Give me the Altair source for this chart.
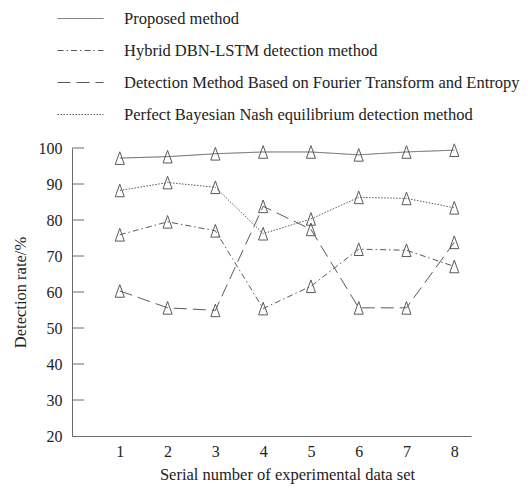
import altair as alt
import pandas as pd

# ---- data ----
data_set = [1, 2, 3, 4, 5, 6, 7, 8]
series_names = [
    "Proposed method",
    "Hybrid DBN-LSTM detection method",
    "Detection Method Based on Fourier Transform and Entropy",
    "Perfect Bayesian Nash equilibrium detection method",
]
proposed = [97.2, 97.6, 98.4, 98.9, 98.9, 98.1, 98.9, 99.4]
hybrid = [75.9, 79.5, 77.0, 55.4, 61.6, 71.9, 71.6, 67.1]
fourier = [60.3, 55.6, 54.9, 83.8, 77.4, 55.6, 55.6, 73.8]
bayes = [88.2, 90.4, 89.1, 76.2, 80.3, 86.3, 86.0, 83.4]
y_ticks = [20, 30, 40, 50, 60, 70, 80, 90, 100]
x_ticks = [1, 2, 3, 4, 5, 6, 7, 8]

rows = []
for name, vals in zip(series_names, [proposed, hybrid, fourier, bayes]):
    for x, v in zip(data_set, vals):
        rows.append({"set": x, "rate": v, "method": name})
df = pd.DataFrame(rows)
ticks_df = pd.DataFrame({"rate": [t for t in y_ticks if t > 20]})

FONT = "Liberation Serif, Times New Roman, Times, serif"
LINE = "#5a5a5a"
AXIS = "#6a6a6a"

x_scale = alt.Scale(domain=[0, 8.35], nice=False, zero=False)
y_scale = alt.Scale(domain=[20, 100], nice=False, zero=False)

x_axis = alt.Axis(
    values=x_ticks,
    title="Serial number of experimental data set",
    ticks=False,
    grid=False,
    labelPadding=7,
    titlePadding=7,
    titleX=215,
    labelOverlap=False,
)
y_axis = alt.Axis(
    values=y_ticks,
    title="Detection rate/%",
    ticks=False,
    grid=False,
    labelPadding=10,
    titlePadding=10,
    labelOverlap=False,
)

dash_scale = alt.Scale(
    domain=series_names,
    range=[[1, 0], [6, 3, 1.5, 3], [13, 6], [1.5, 1.5]],
)

NBSP = "\u00a0"
FIG = "\u2007"
label_expr = (
    "indexof(datum.label, 'Proposed') == 0 ? '" + NBSP + "' + datum.label : "
    "indexof(datum.label, 'Perfect') == 0 ? '" + FIG * 3 + "' + datum.label : datum.label"
)

lines = alt.Chart(df).mark_line(color=LINE, strokeWidth=1).encode(
    x=alt.X("set:Q", scale=x_scale, axis=x_axis),
    y=alt.Y("rate:Q", scale=y_scale, axis=y_axis),
    strokeDash=alt.StrokeDash(
        "method:N",
        scale=dash_scale,
        sort=series_names,
        legend=alt.Legend(
            title=None,
            orient="none",
            legendX=-15,
            legendY=-153,
            direction="vertical",
            symbolType="stroke",
            symbolSize=2116,
            symbolStrokeColor=LINE,
            symbolStrokeWidth=1,
            labelOffset=20,
            rowPadding=-10,
            labelLimit=0,
            labelExpr=label_expr,
            padding=0,
        ),
    ),
    detail="method:N",
)

points = alt.Chart(df).mark_point(
    shape="M0,-1L0.72,1L-0.72,1Z",
    size=160,
    filled=False,
    stroke=LINE,
    strokeWidth=1,
    opacity=1,
).encode(
    x=alt.X("set:Q", scale=x_scale, axis=x_axis),
    y=alt.Y("rate:Q", scale=y_scale, axis=y_axis),
)

tick_rules = alt.Chart(ticks_df).mark_rule(color=AXIS, strokeWidth=1).encode(
    y=alt.Y("rate:Q", scale=y_scale, axis=y_axis),
    x=alt.value(0),
    x2=alt.value(12),
)

chart = (
    alt.layer(lines, points, tick_rules)
    .properties(
        width=399,
        height=288,
        autosize=alt.AutoSizeParams(type="none"),
        padding={"left": 72, "top": 148, "right": 61, "bottom": 51},
        background="white",
    )
    .configure_view(stroke=None)
    .configure_axis(
        labelFont=FONT,
        titleFont=FONT,
        labelFontSize=16,
        titleFontSize=16.5,
        titleFontWeight="normal",
        labelColor="#222",
        titleColor="#222",
        domainColor=AXIS,
        domainWidth=1,
    )
    .configure_legend(labelFont=FONT, labelFontSize=16.5, labelColor="#222")
)

chart.save("out.html", embed_options={"renderer": "svg", "actions": False})
